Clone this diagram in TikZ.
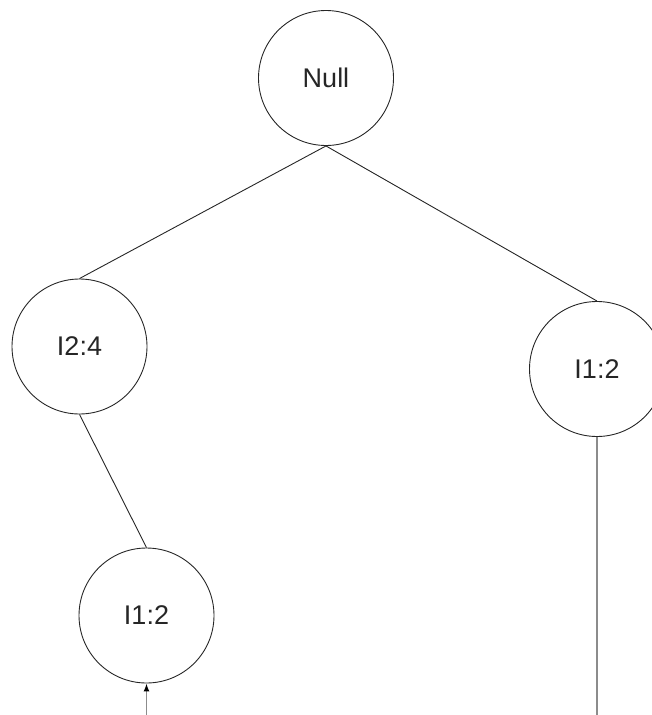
\documentclass[tikz,border=0pt]{standalone}
\usepackage{fontspec}
\setmainfont{Liberation Sans}
\usetikzlibrary{arrows.meta}
\begin{document}
\begin{tikzpicture}[x=1pt,y=-1pt,
  treenode/.style={draw=black!85, line width=0.9pt, circle, minimum size=135pt, inner sep=0pt,
    font=\fontsize{27}{32}\selectfont, text=black!85},
  treeedge/.style={draw=black!85, line width=0.9pt},
  pointer/.style={draw=black!45, line width=1.5pt}]
\useasboundingbox (0,0) rectangle (652,715);
\clip (0,0) rectangle (652,715);
\node[treenode] (root) at (326,78) {Null};
\node[treenode] (left) at (79.5,346.5) {I2:4};
\node[treenode] (right) at (597,369) {I1:2};
\node[treenode] (leaf) at (146.5,615.5) {I1:2};
\coordinate (rightend) at (597,715);
\coordinate (leafend) at (146.5,715);
\draw[treeedge] (root.south) -- (left.north);
\draw[treeedge] (root.south) -- (right.north);
\draw[treeedge] (left.south) -- (leaf.north);
\draw[pointer] (right.south) -- (rightend);
\draw[pointer, -{Latex[length=8pt,width=6pt,color=black]}] (leafend) -- (leaf.south);
\end{tikzpicture}
\end{document}
